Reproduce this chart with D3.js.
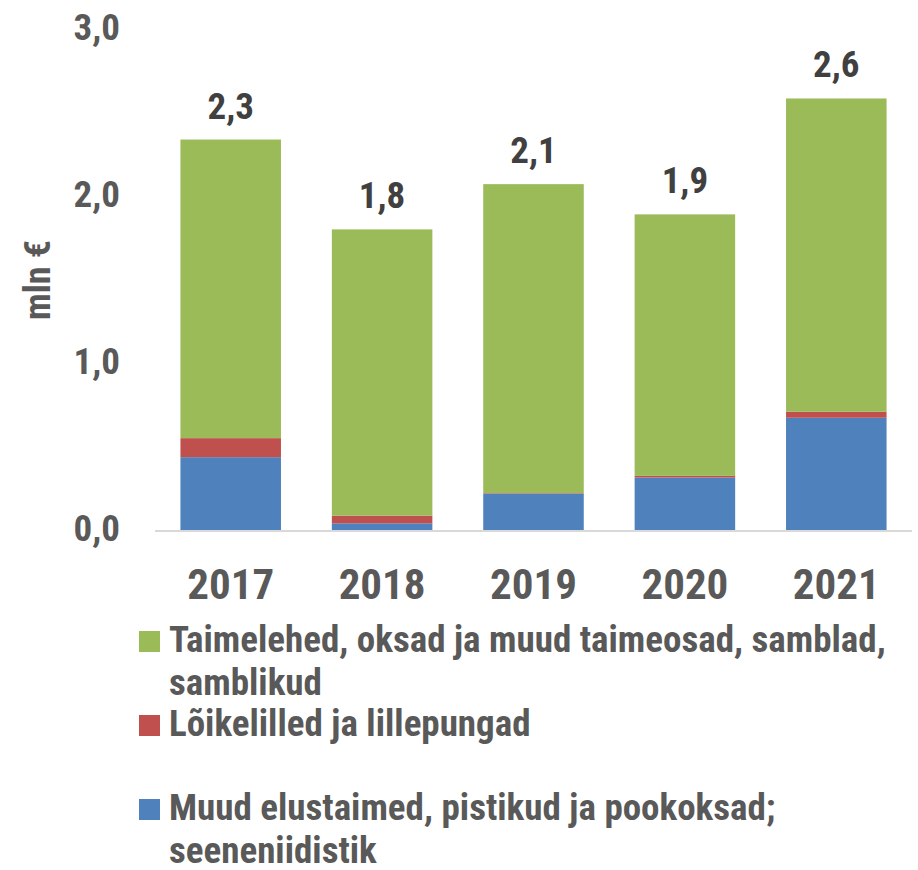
<!DOCTYPE html>
<html>
<head>
<meta charset="utf-8">
<script src="https://cdn.jsdelivr.net/npm/d3@7"></script>
<style>
  html, body { margin: 0; padding: 0; background: #fff; }
  svg text { font-family: "Roboto Condensed", "Liberation Sans Narrow", Roboto, sans-serif; font-weight: bold; }
</style>
</head>
<body>
<div id="chart"></div>
<script>
// data (mln €)
const years = ["2017", "2018", "2019", "2020", "2021"];
const muudElustaimed = [0.436, 0.040, 0.218, 0.314, 0.672];
const loikelilled = [0.114, 0.046, 0.003, 0.010, 0.036];
const taimelehed = [1.788, 1.714, 1.850, 1.566, 1.876];
const yTicks = [0, 1, 2, 3];

const seriesNames = [
  "Muud elustaimed, pistikud ja pookoksad; seeneniidistik",
  "Lõikelilled ja lillepungad",
  "Taimelehed, oksad ja muud taimeosad, samblad, samblikud"
];
const colors = ["#4F81BD", "#C0504D", "#9BBB59"];

const width = 918, height = 870;
const comma = d => d3.format(".1f")(d).replace(".", ",");

const svg = d3.select("#chart").append("svg")
  .attr("width", width)
  .attr("height", height);

const x = d3.scaleBand()
  .domain(years)
  .range([155, 912])
  .paddingInner(0.336)
  .paddingOuter(0.168);

const y = d3.scaleLinear()
  .domain([0, 3])
  .range([530, 29]);

// stack the three series
const rows = years.map((yr, i) => ({
  year: yr, s0: muudElustaimed[i], s1: loikelilled[i], s2: taimelehed[i]
}));
const stacked = d3.stack().keys(["s0", "s1", "s2"])(rows);

svg.append("g")
  .selectAll("g")
  .data(stacked)
  .join("g")
  .attr("fill", (d, i) => colors[i])
  .selectAll("rect")
  .data(d => d)
  .join("rect")
  .attr("x", d => x(d.data.year))
  .attr("width", x.bandwidth())
  .attr("y", d => y(d[1]))
  .attr("height", d => y(d[0]) - y(d[1]));

// baseline
svg.append("line")
  .attr("x1", 155).attr("x2", 912)
  .attr("y1", y(0) + 1).attr("y2", y(0) + 1)
  .attr("stroke", "#d9d9d9")
  .attr("stroke-width", 2);

// y tick labels
svg.append("g")
  .selectAll("text")
  .data(yTicks)
  .join("text")
  .attr("x", 120)
  .attr("y", d => y(d) + 11)
  .attr("text-anchor", "end")
  .attr("fill", "#595959")
  .style("font-size", "37px")
  .text(d => comma(d));

// y axis title
svg.append("text")
  .attr("transform", "translate(50,280) rotate(-90)")
  .attr("text-anchor", "middle")
  .attr("fill", "#595959")
  .style("font-size", "36px")
  .text("mln €");

// year labels
svg.append("g")
  .selectAll("text")
  .data(years)
  .join("text")
  .attr("x", d => x(d) + x.bandwidth() / 2)
  .attr("y", 599)
  .attr("text-anchor", "middle")
  .attr("fill", "#595959")
  .style("font-size", "43px")
  .text(d => d);

// totals above bars
svg.append("g")
  .selectAll("text")
  .data(rows)
  .join("text")
  .attr("x", d => x(d.year) + x.bandwidth() / 2)
  .attr("y", d => y(d.s0 + d.s1 + d.s2) - 21)
  .attr("text-anchor", "middle")
  .attr("fill", "#404040")
  .style("font-size", "37px")
  .text(d => comma(d.s0 + d.s1 + d.s2));

// legend
const legendRows = [
  { i: 2, lines: ["Taimelehed, oksad ja muud taimeosad, samblad,", "samblikud"], y: 652 },
  { i: 1, lines: ["Lõikelilled ja lillepungad"], y: 736 },
  { i: 0, lines: ["Muud elustaimed, pistikud ja pookoksad;", "seeneniidistik"], y: 820 }
];

const lg = svg.append("g")
  .selectAll("g")
  .data(legendRows)
  .join("g");

lg.append("rect")
  .attr("x", 139)
  .attr("y", d => d.y - 21)
  .attr("width", 21)
  .attr("height", 21)
  .attr("fill", d => colors[d.i]);

lg.append("text")
  .attr("x", 169)
  .attr("y", d => d.y)
  .attr("fill", "#595959")
  .style("font-size", "37px")
  .selectAll("tspan")
  .data(d => d.lines)
  .join("tspan")
  .attr("x", 169)
  .attr("dy", (d, i) => i === 0 ? 0 : 43)
  .text(d => d);
</script>
</body>
</html>
